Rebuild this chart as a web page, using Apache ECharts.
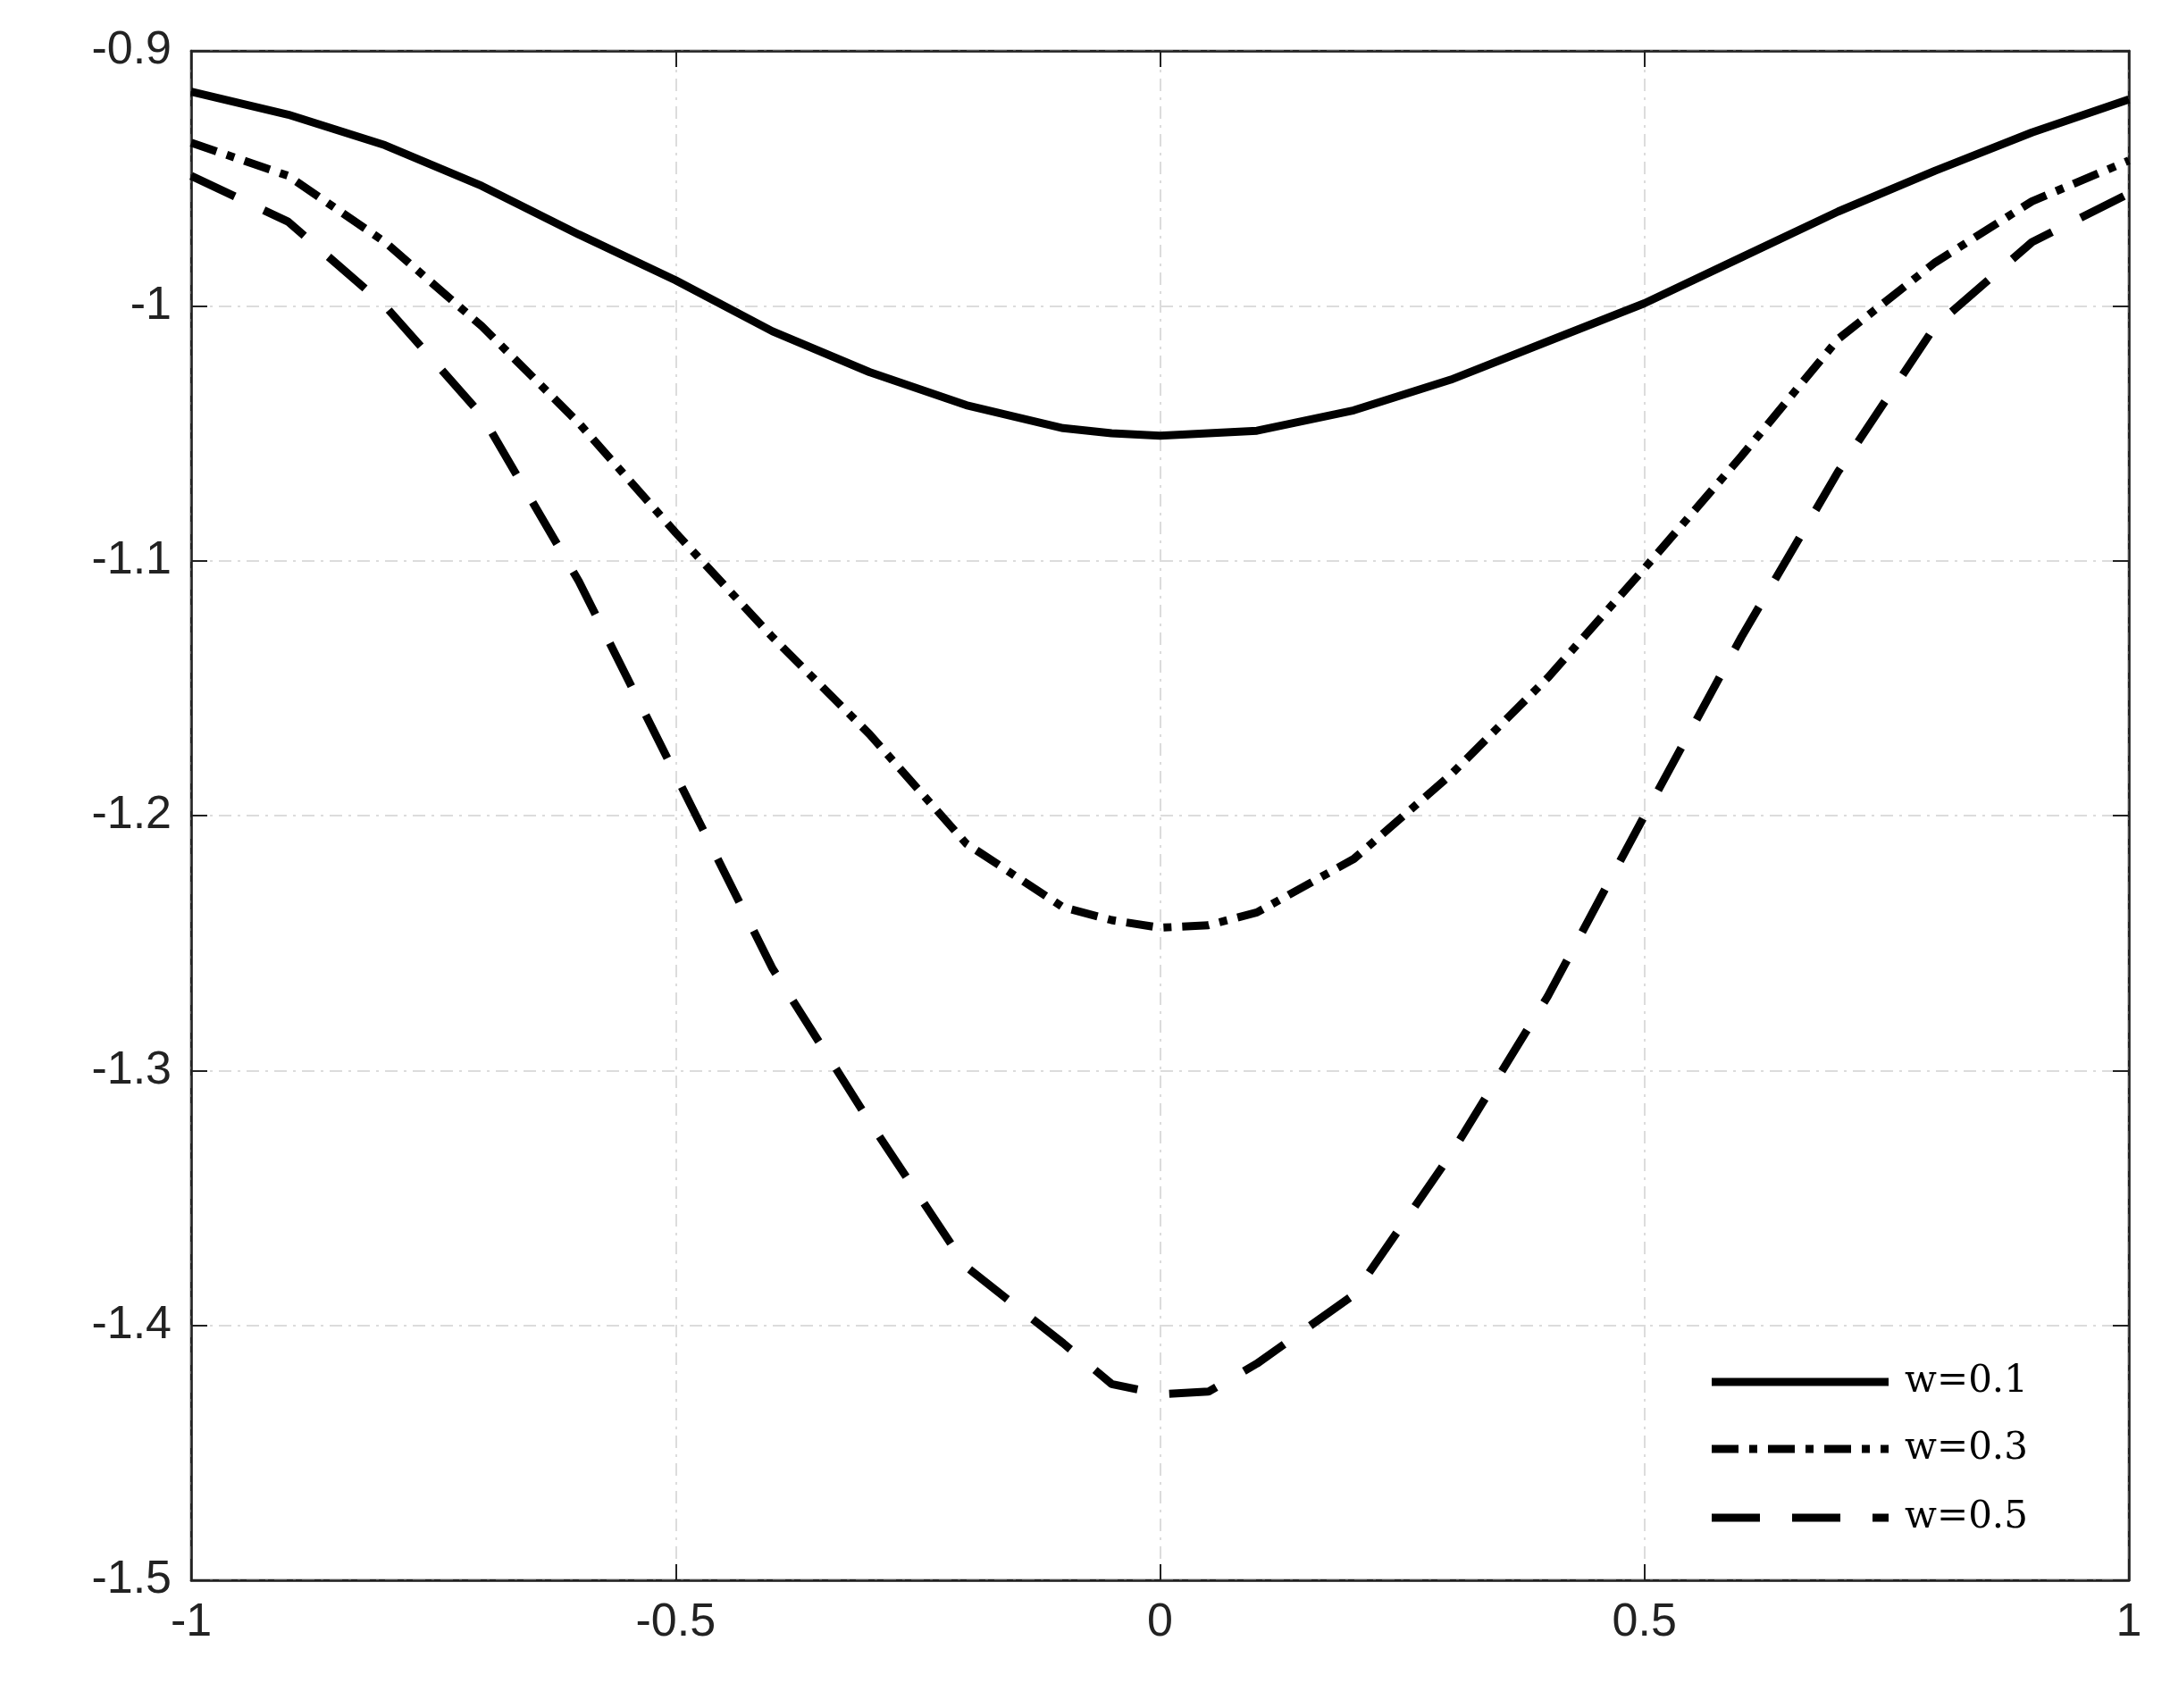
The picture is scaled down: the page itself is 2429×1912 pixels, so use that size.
<!DOCTYPE html>
<html><head><meta charset="utf-8">
<script src="https://cdn.jsdelivr.net/npm/echarts@6/dist/echarts.min.js"></script>
<style>html,body{margin:0;padding:0;background:#fff}#c{width:2429px;height:1912px}</style>
</head><body><div id="c"></div>
<script>
var xs = [-1, -0.9, -0.8, -0.7, -0.6, -0.5, -0.4, -0.3, -0.2, -0.1, -0.05, 0, 0.05, 0.1, 0.2, 0.3, 0.4, 0.5, 0.6, 0.7, 0.8, 0.9, 1];
var w01 = [-0.916, -0.925, -0.937, -0.953, -0.972, -0.990, -1.010, -1.026, -1.039, -1.048, -1.050, -1.051, -1.050, -1.049, -1.041, -1.029, -1.014, -0.999, -0.981, -0.963, -0.947, -0.932, -0.919];
var w03 = [-0.936, -0.949, -0.975, -1.008, -1.046, -1.089, -1.130, -1.168, -1.211, -1.236, -1.241, -1.244, -1.243, -1.238, -1.217, -1.184, -1.146, -1.103, -1.059, -1.013, -0.983, -0.959, -0.943];
var w05 = [-0.949, -0.967, -1.000, -1.043, -1.108, -1.184, -1.260, -1.320, -1.377, -1.407, -1.423, -1.427, -1.426, -1.415, -1.388, -1.333, -1.271, -1.200, -1.130, -1.065, -1.008, -0.975, -0.956];
var names = ['w=0.1', 'w=0.3', 'w=0.5'];
var dashes = ['solid', [30, 12, 9, 12], [54, 36]];

function pairs(ys) { return xs.map(function (x, i) { return [x, ys[i]]; }); }
function fmt(v) { return String(Math.round(v * 100) / 100); }

var lbl = { fontFamily: 'Liberation Sans', fontSize: 52, color: '#222', formatter: fmt, margin: 22 };
var split = { show: true, lineStyle: { color: '#dcdcdc', width: 2, type: [14, 7, 3, 7] } };
var tick = { show: true, inside: true, length: 18, lineStyle: { color: '#222', width: 2 } };
var line = { show: true, onZero: false, lineStyle: { color: '#222', width: 2.5 } };

function mk(i, ys) {
  return {
    name: names[i], type: 'line', data: pairs(ys), showSymbol: false, symbol: 'none',
    lineStyle: { color: '#000', width: 9, type: dashes[i], cap: 'butt' }
  };
}

// legend drawn by hand (bottom right)
var legendRows = [1547, 1622, 1699];
var graphic = [];
names.forEach(function (n, i) {
  graphic.push({ type: 'line', shape: { x1: 1916, y1: legendRows[i], x2: 2114, y2: legendRows[i] },
    style: { stroke: '#000', lineWidth: 9, lineDash: dashes[i] === 'solid' ? null : dashes[i] } });
  graphic.push({ type: 'text', x: 2132, y: legendRows[i], style: { text: n, fill: '#000',
    font: '42px "DejaVu Serif"', textVerticalAlign: 'middle' } });
});

var chart = echarts.init(document.getElementById('c'));
chart.setOption({
  animation: false,
  backgroundColor: '#fff',
  grid: { left: 214, right: 46, top: 57, bottom: 143, show: true, borderColor: '#222', borderWidth: 2.5 },
  graphic: graphic,
  xAxis: [
    { type: 'value', min: -1, max: 1, interval: 0.5, axisLabel: lbl, splitLine: split, axisTick: tick, axisLine: line },
    { type: 'value', position: 'top', min: -1, max: 1, interval: 0.5, axisLabel: { show: false }, splitLine: { show: false }, axisTick: tick, axisLine: line }
  ],
  yAxis: [
    { type: 'value', min: -1.5, max: -0.9, interval: 0.1, axisLabel: lbl, splitLine: split, axisTick: tick, axisLine: line },
    { type: 'value', position: 'right', min: -1.5, max: -0.9, interval: 0.1, axisLabel: { show: false }, splitLine: { show: false }, axisTick: tick, axisLine: line }
  ],
  series: [mk(0, w01), mk(1, w03), mk(2, w05)]
});
</script></body></html>
